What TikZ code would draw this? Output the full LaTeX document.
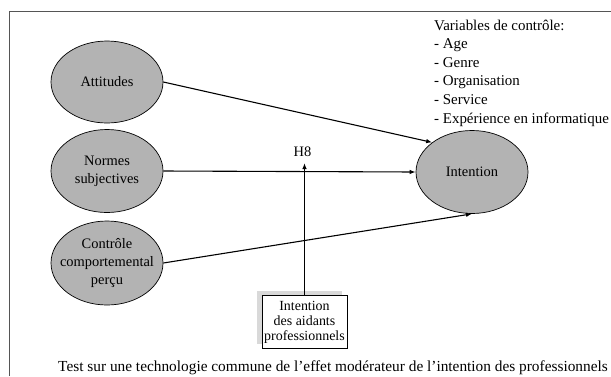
\documentclass[tikz,border=0pt]{standalone}
\usepackage{fontspec}
\setmainfont{Liberation Serif}
\usetikzlibrary{arrows.meta, positioning, calc, shadows, shapes.geometric}
\definecolor{ovalf}{HTML}{B3B3B3}
\definecolor{shadef}{HTML}{D9D9D9}
\definecolor{framec}{HTML}{555555}
\tikzset{
  construct/.style={ellipse, draw=black, fill=ovalf, line width=0.7pt, align=center,
                    inner xsep=-12bp, inner ysep=-10bp, minimum width=112bp,
                    font=\fontsize{14.5}{18}\selectfont},
  modbox/.style={draw=black, fill=white, line width=0.9pt, align=center, inner sep=0pt,
                 minimum width=85bp, minimum height=53bp,
                 font=\fontsize{14}{15}\selectfont,
                 general shadow={fill=shadef, shadow xshift=-5bp, shadow yshift=5bp}},
  ctltext/.style={anchor=base west, inner sep=0pt, font=\fontsize{15}{18}\selectfont},
  lbl/.style={inner sep=0pt, font=\fontsize{14.5}{18}\selectfont},
  causal/.style={-{Latex[length=6bp,width=4.5bp]}, line width=1.1pt},
}

\begin{document}
\begin{tikzpicture}[x=1bp, y=-1bp]
  \useasboundingbox (0,0) rectangle (611,376);
  % ---------------- frame ----------------
  \draw[framec, line width=1pt] (9,376) -- (9,11) -- (611,11);

  % ---------------- constructs ----------------
  \node[construct, minimum height=82bp] (att) at (107,82) {Attitudes};
  \node[construct, minimum height=83bp] (nor) at (107,171) {Normes\\subjectives};
  \node[construct, minimum height=84bp] (con) at (107,263) {Contrôle\\comportemental\\perçu};
  \node[construct, minimum height=83bp] (int) at (472,172) {Intention};

  % ---------------- control variables ----------------
  \foreach \i/\t in {0/Variables de contrôle:, 1/- Age, 2/- Genre, 3/- Organisation,
                     4/- Service, 5/- Expérience en informatique}
    \node[ctltext] (ctl\i) at (434,30+18.6*\i) {\t};

  % ---------------- moderator ----------------
  \node[modbox] (mod) at (304.5,322) {Intention\\des aidants\\professionnels};
  \coordinate (tip) at (mod.north |- 0,163);
  \node[lbl, anchor=south] (h8) at ($(tip)+(-2,-6)$) {H8};

  % ---------------- paths ----------------
  \draw[causal] (att.east) -- (int.north west);
  \draw[causal] (nor.east) -- (int.west);
  \draw[causal] (con.east) -- (int.south);
  \draw[causal] (mod.north) -- (tip);

  % ---------------- caption ----------------
  \node[lbl, anchor=base, font=\fontsize{15.4}{18}\selectfont] (cap) at (333,371)
    {Test sur une technologie commune de l’effet modérateur de l’intention des professionnels};
\end{tikzpicture}
\end{document}
